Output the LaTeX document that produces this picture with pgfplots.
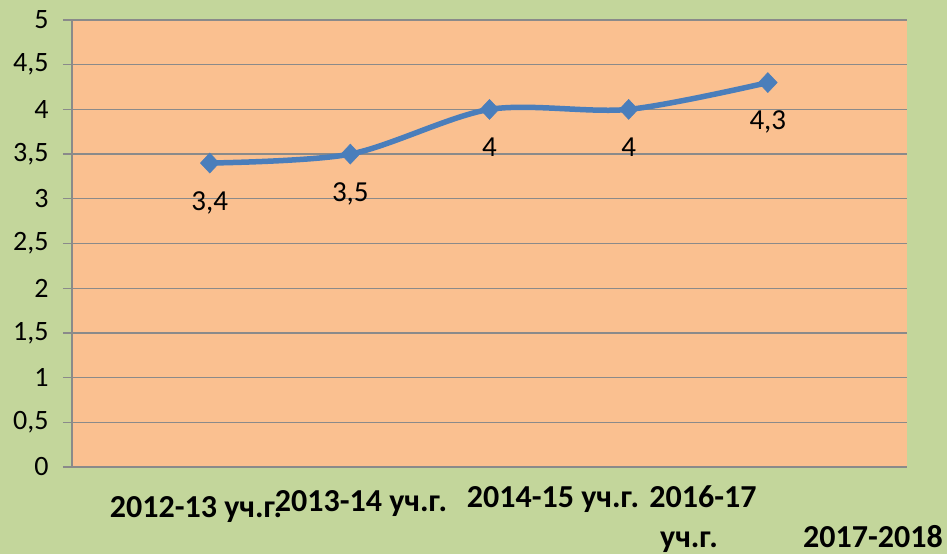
\documentclass[border=0pt]{standalone}
\usepackage{fontspec}
\setmainfont{Carlito}
\usepackage{pgfplots}
\pgfplotsset{compat=1.18}
\definecolor{bggreen}{HTML}{C3D69B}
\definecolor{peach}{HTML}{FAC090}
\definecolor{gridgray}{HTML}{8A8A8A}
\definecolor{lineblue}{HTML}{4A7EBB}
\pgfplotsset{
  every y tick label/.style={font=\fontsize{28}{28}\selectfont, text=black, anchor=east, xshift=-11pt},
  every node near coord/.style={font=\fontsize{29}{29}\selectfont, text=black, anchor=base, yshift=-47pt},
}
\begin{document}
\begin{tikzpicture}[x=1pt,y=1pt]
\fill[bggreen] (0,0) rectangle (947,554);
\begin{axis}[
  at={(72pt,87pt)}, anchor=south west,
  scale only axis, width=835pt, height=447pt,
  xmin=0, xmax=6, ymin=0, ymax=5,
  ytick={0,0.5,1,1.5,2,2.5,3,3.5,4,4.5,5},
  yticklabels={0,{0,5},1,{1,5},2,{2,5},3,{3,5},4,{4,5},5},
  xtick=\empty,
  axis lines=left,
  axis line style={draw=gridgray, line width=1.3pt, -},
  ymajorgrids,
  grid style={gridgray, line width=1.3pt},
  major tick length=9pt,
  tick style={gridgray, line width=1.3pt},
  tick align=outside,
  axis background/.style={fill=peach},
  clip=false,
  point meta=explicit symbolic,
  nodes near coords,
]
\addplot[color=lineblue, line width=5.5pt, smooth, mark=diamond*, mark size=10pt,
  mark options={solid, xscale=1.25, line width=0.5pt, fill=lineblue}]
  coordinates {(0.99,3.4)[3,4] (2,3.5)[3,5] (3,4)[4] (4,4)[4] (5,4.3)[4,3]};
\end{axis}
\begin{scope}[every node/.style={anchor=base, font=\bfseries\fontsize{32}{32}\selectfont, inner sep=0pt}]
\node at (196,37) {2012-13 уч.г.};
\node at (361,42) {2013-14 уч.г.};
\node at (553,46) {2014-15 уч.г.};
\node at (703,46) {2016-17};
\node at (689,7) {уч.г.};
\node at (873,7) {2017-2018};
\end{scope}
\end{tikzpicture}
\end{document}
